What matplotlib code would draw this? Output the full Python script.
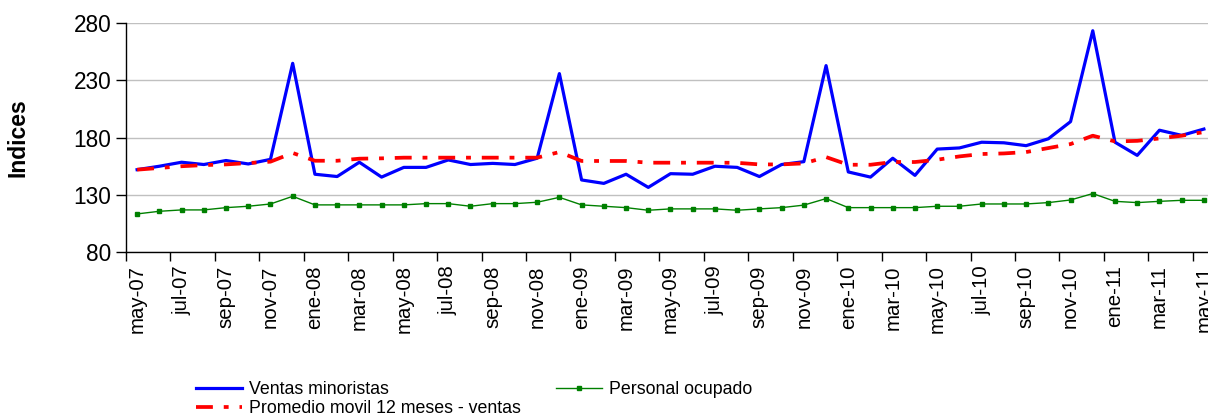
import matplotlib
matplotlib.use("Agg")
import matplotlib.pyplot as plt

plt.rcParams['font.family'] = ['Liberation Sans', 'DejaVu Sans']

# Months May-2007 .. May-2011
month_names = ["ene", "feb", "mar", "abr", "may", "jun", "jul", "ago", "sep", "oct", "nov", "dic"]
months = []
for i in range(49):
    m = (4 + i) % 12
    y = 7 + (4 + i) // 12
    months.append(f"{month_names[m]}-{y:02d}")

ventas = [152, 155, 158.5, 156.5, 160, 157, 161, 245, 148, 146, 158.5, 145.5, 154,
          154, 160.5, 156.5, 157.5, 156.5, 162, 236, 143, 140, 148, 136.5, 148.5,
          148, 155, 154, 146, 156.5, 159, 243, 150, 145.5, 162, 147, 170,
          171, 176, 175.5, 173, 179, 194, 273.5, 176, 164.5, 186.5, 182, 187.5]

promedio = [152, 153.5, 155, 156, 156.6, 157.8, 159, 166.6, 159.8, 159.8, 161.6, 161.9, 162.5,
            162.5, 162.5, 162.5, 162.5, 162.5, 162.5, 167.4, 159.6, 159.6, 159.6, 158.1, 158.1,
            158.1, 158.1, 158, 156.6, 156.6, 157.5, 163, 156.3, 156.3, 158.7, 158.7, 160.7,
            163.6, 165.7, 166.2, 167.4, 170.9, 174.4, 181.7, 176.7, 177.2, 179.3, 181.7, 184.9]

personal = [113.3, 115.6, 116.8, 116.8, 118.8, 120, 122, 128.7, 121.2, 121.2, 121.2, 121.2, 121.2,
            122.3, 122.3, 120, 122.3, 122.3, 123.5, 127.8, 121.2, 120, 118.8, 116.5, 117.7,
            117.7, 117.7, 116.5, 117.7, 118.8, 121, 126.7, 118.8, 118.8, 118.8, 118.8, 120,
            120, 122, 122, 122, 123.2, 125.5, 131.1, 124.3, 123.2, 124.3, 125.2, 125.2]

y_ticks = [80, 130, 180, 230, 280]

W, H = 1208, 418
fig = plt.figure(figsize=(W / 100, H / 100), dpi=100)
left, right, top, bottom = 126, 1215, 23.3, 252
ax = fig.add_axes([left / W, (H - bottom) / H, (right - left) / W, (bottom - top) / H])

x = list(range(len(months)))
l1, = ax.plot(x, ventas, color="#0000FF", lw=2.3, solid_joinstyle="round", zorder=3,
              label="Ventas minoristas")
l3, = ax.plot(x, personal, color="#008000", lw=1.0, marker="s", markersize=2.2, zorder=2,
              label="Personal ocupado")
l2, = ax.plot(x, promedio, color="#FF0000", lw=2.7, linestyle=(0, (4.5, 2.9, 1.3, 2.9)),
              zorder=4, label="Promedio movil 12 meses - ventas")

ax.set_xlim(-0.5, len(months) - 0.5)
ax.set_ylim(80, 280)
ax.set_yticks(y_ticks)
ax.set_yticklabels([str(v) for v in y_ticks], fontsize=16.3)
ax.yaxis.grid(True, color="#c0c0c0", lw=1.0)
ax.set_axisbelow(True)

# ticks at category boundaries every 2 months, labels at category centres
ax.set_xticks([i - 0.5 for i in range(0, len(months), 2)])
ax.set_xticklabels([])
ax.set_xticks(list(range(0, len(months), 2)), minor=True)
ax.set_xticklabels(months[::2], minor=True, rotation=90, fontsize=14.7)
ax.tick_params(axis="x", which="minor", length=0, pad=9.6)
ax.tick_params(axis="x", which="major", length=6.5, direction="out", width=1)
ax.tick_params(axis="y", length=7, direction="out", width=1, pad=3.5)

for s in ["top", "right"]:
    ax.spines[s].set_visible(False)
for s in ["left", "bottom"]:
    ax.spines[s].set_color("black")
    ax.spines[s].set_linewidth(1.0)

ax.set_ylabel("Indices", fontsize=16.5, fontweight="bold")
ax.yaxis.set_label_coords((29 - left) / (right - left), 0.5)

fig.legend(handles=[l1, l2, l3], loc="upper left", bbox_to_anchor=(196 / W, 1 - 381 / H),
           ncol=2, frameon=False, fontsize=12.8, handlelength=2.6, handletextpad=0.36,
           columnspacing=2.0, labelspacing=0.1, borderpad=0, borderaxespad=0)

fig.savefig("out.png", dpi=100)
